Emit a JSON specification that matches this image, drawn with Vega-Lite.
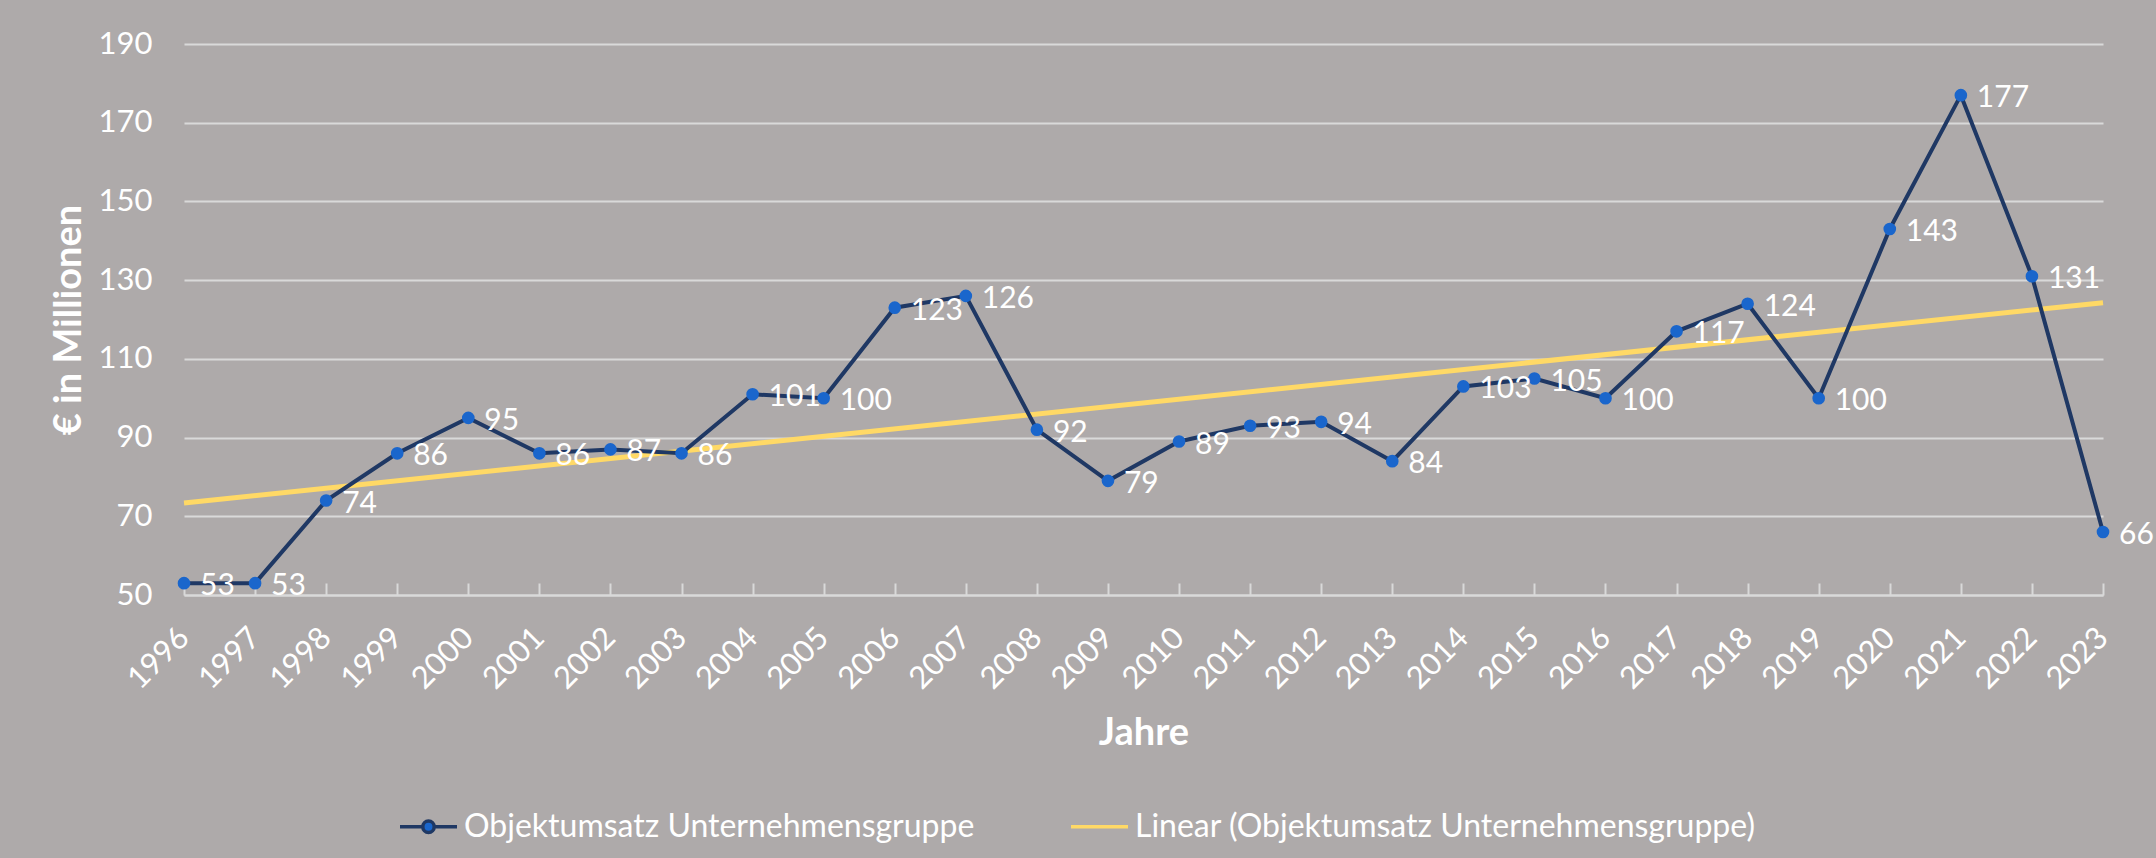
{
  "$schema": "https://vega.github.io/schema/vega-lite/v6.json",
  "width": 1919,
  "height": 551,
  "autosize": {"type": "none"},
  "padding": {"left": 184, "top": 44, "right": 53, "bottom": 263},
  "background": "#AEAAAA",
  "config": {
    "view": {"stroke": null},
    "font": "Lato",
    "axis": {"labelFont": "Lato", "titleFont": "Lato", "labelColor": "#FFFFFF", "titleColor": "#FFFFFF"}
  },
  "data": {
    "values": [
      {"Jahr": 1996, "Umsatz": 53},
      {"Jahr": 1997, "Umsatz": 53},
      {"Jahr": 1998, "Umsatz": 74},
      {"Jahr": 1999, "Umsatz": 86},
      {"Jahr": 2000, "Umsatz": 95},
      {"Jahr": 2001, "Umsatz": 86},
      {"Jahr": 2002, "Umsatz": 87},
      {"Jahr": 2003, "Umsatz": 86},
      {"Jahr": 2004, "Umsatz": 101},
      {"Jahr": 2005, "Umsatz": 100},
      {"Jahr": 2006, "Umsatz": 123},
      {"Jahr": 2007, "Umsatz": 126},
      {"Jahr": 2008, "Umsatz": 92},
      {"Jahr": 2009, "Umsatz": 79},
      {"Jahr": 2010, "Umsatz": 89},
      {"Jahr": 2011, "Umsatz": 93},
      {"Jahr": 2012, "Umsatz": 94},
      {"Jahr": 2013, "Umsatz": 84},
      {"Jahr": 2014, "Umsatz": 103},
      {"Jahr": 2015, "Umsatz": 105},
      {"Jahr": 2016, "Umsatz": 100},
      {"Jahr": 2017, "Umsatz": 117},
      {"Jahr": 2018, "Umsatz": 124},
      {"Jahr": 2019, "Umsatz": 100},
      {"Jahr": 2020, "Umsatz": 143},
      {"Jahr": 2021, "Umsatz": 177},
      {"Jahr": 2022, "Umsatz": 131},
      {"Jahr": 2023, "Umsatz": 66}
    ]
  },
  "encoding": {
    "x": {
      "field": "Jahr",
      "type": "quantitative",
      "scale": {"domain": [1996, 2023], "nice": false, "zero": false},
      "axis": {
        "title": "Jahre",
        "titleFontSize": 38,
        "titleFontWeight": "bold",
        "titlePadding": 20,
        "values": [1996,1997,1998,1999,2000,2001,2002,2003,2004,2005,2006,2007,2008,2009,2010,2011,2012,2013,2014,2015,2016,2017,2018,2019,2020,2021,2022,2023],
        "format": "d",
        "labelAngle": -45,
        "labelAlign": "right",
        "labelBaseline": "middle",
        "labelFontSize": 31,
        "labelPadding": 50,
        "labelOverlap": false,
        "labelFlush": false,
        "grid": false,
        "domainColor": "#D9D9D9",
        "domainWidth": 2,
        "tickColor": "#D9D9D9",
        "tickWidth": 2,
        "tickSize": -12
      }
    },
    "y": {
      "field": "Umsatz",
      "type": "quantitative",
      "scale": {"domain": [50, 190], "nice": false, "zero": false},
      "axis": {
        "title": "€ in Millionen",
        "titleFontSize": 38,
        "titleFontWeight": "bold",
        "titlePadding": 10,
        "values": [50, 70, 90, 110, 130, 150, 170, 190],
        "labelFontSize": 31,
        "labelPadding": 32,
        "ticks": false,
        "domain": false,
        "grid": true,
        "gridColor": "#D9D9D9",
        "gridWidth": 2
      }
    }
  },
  "layer": [
    {
      "transform": [{"regression": "Umsatz", "on": "Jahr", "extent": [1996, 2023]}],
      "mark": {"type": "line", "strokeWidth": 5},
      "encoding": {
        "color": {"datum": "Linear (Objektumsatz Unternehmensgruppe)"}
      }
    },
    {
      "mark": {"type": "line", "strokeWidth": 4},
      "encoding": {
        "color": {
          "datum": "Objektumsatz Unternehmensgruppe",
          "scale": {
            "domain": ["Objektumsatz Unternehmensgruppe", "Linear (Objektumsatz Unternehmensgruppe)"],
            "range": ["#1F3864", "#FFD966"]
          },
          "legend": {
            "title": null,
            "orient": "none",
            "legendX": 214,
            "legendY": 752,
            "direction": "horizontal",
            "padding": 0,
            "symbolType": "stroke",
            "symbolSize": 3249,
            "symbolStrokeWidth": 3.5,
            "labelFont": "Lato",
            "labelFontSize": 32,
            "labelColor": "#FFFFFF",
            "labelOffset": 5,
            "labelLimit": 1000,
            "columnPadding": 89,
            "encode": {
              "symbols": {
                "update": {
                  "shape": {"signal": "datum.value == 'Objektumsatz Unternehmensgruppe' ? 'M-1,0H-0.2M0.2,0H1M0.2,0A0.2,0.2,0,1,1,-0.2,0A0.2,0.2,0,1,1,0.2,0Z' : 'stroke'"},
                  "fill": {"signal": "datum.value == 'Objektumsatz Unternehmensgruppe' ? '#1A66CC' : 'transparent'"}
                }
              }
            }
          }
        }
      }
    },
    {
      "mark": {"type": "circle", "size": 160, "color": "#1A66CC", "opacity": 1}
    },
    {
      "mark": {"type": "text", "align": "left", "baseline": "middle", "dx": 16, "dy": 3, "fontSize": 30, "font": "Lato", "color": "#FFFFFF"},
      "encoding": {"text": {"field": "Umsatz", "type": "quantitative"}}
    }
  ]
}
